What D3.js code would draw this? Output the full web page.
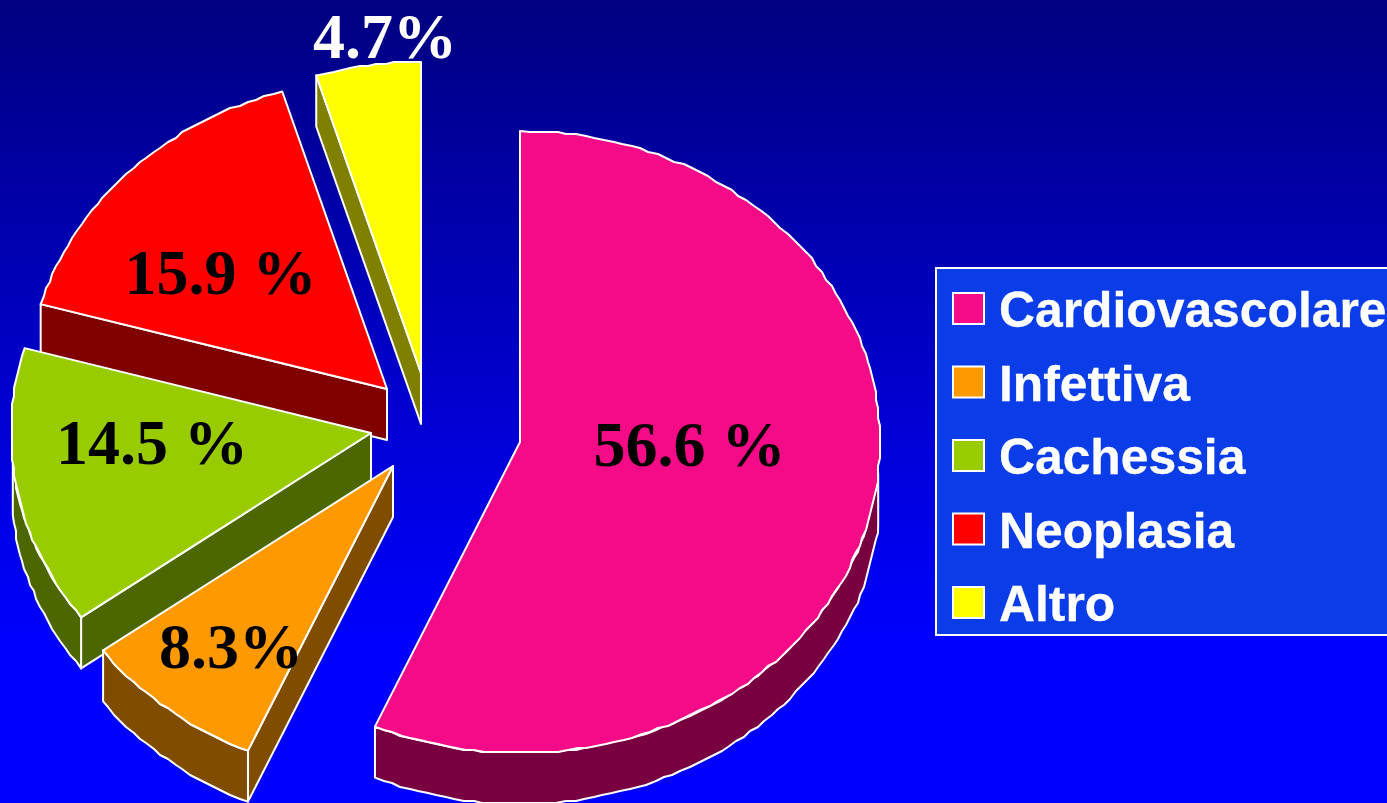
<!DOCTYPE html>
<html>
<head>
<meta charset="utf-8">
<script src="https://cdn.jsdelivr.net/npm/d3@7/dist/d3.min.js"></script>
<style>html,body{margin:0;padding:0;background:#0000ff;overflow:hidden}svg{display:block}</style>
</head>
<body>
<script>
// ---- data ----
const categories = ["Cardiovascolare", "Infettiva", "Cachessia", "Neoplasia", "Altro"];
const values = [56.6, 8.3, 14.5, 15.9, 4.7];
const valueLabels = ["56.6 %", "8.3%", "14.5 %", "15.9 %", "4.7%"];
const topColours = ["#F50A87", "#FF9900", "#99CC00", "#FF0000", "#FFFF00"];
const wallColours = ["#780040", "#804C00", "#4C6600", "#800000", "#808000"];
const labelColours = ["#000", "#000", "#000", "#000", "#fff"];

// ---- layout ----
const W = 1387, H = 803, rx = 360, ry = 311, depth = 51;
const apexes = [[520, 442], [393, 466], [371, 433], [387, 389], [421, 373]];
const labelPos = [[689.5, 466], [231, 668], [152, 464], [220.5, 294], [385, 58]];
const drawOrder = [4, 3, 2, 1, 0];
const wallInset = 0.1;

const svg = d3.select("body").append("svg").attr("width", W).attr("height", H);
const defs = svg.append("defs");
const grad = defs.append("linearGradient").attr("id", "bg").attr("x1", 0).attr("x2", 0).attr("y1", 0).attr("y2", 1);
grad.append("stop").attr("offset", "0").attr("stop-color", "#000080");
grad.append("stop").attr("offset", "0.8").attr("stop-color", "#0000ff");
svg.append("rect").attr("width", W).attr("height", H).attr("fill", "url(#bg)");

const arcs = d3.pie().sort(null).value(d => d)(values);
const line = d3.line();
const STEP = Math.PI / 120, GRID = 2;   // fine polygonal rim, snapped to a grid as in the source

function arcPoints(a, b, i, dy) {
  const [cx, cy] = apexes[i];
  const n = Math.max(1, Math.ceil((b - a) / STEP));
  return d3.range(n + 1).map(k => {
    const t = a + (b - a) * k / n;
    const x = cx + rx * Math.sin(t), y = cy - ry * Math.cos(t);
    if (k === 0 || k === n) return [x, y + dy];
    return [Math.round(x / GRID) * GRID, Math.round(y / GRID) * GRID + dy];
  });
}

const sliceStyle = (sel, fill) => sel.attr("fill", fill).attr("stroke", "#fff")
  .attr("stroke-width", 2).attr("stroke-linejoin", "round");

drawOrder.forEach(i => {
  const d = arcs[i];
  const g = svg.append("g").attr("class", "slice");
  const apex = apexes[i];

  // radial cut face along the start edge (hidden for the big slice)
  if (i !== 0) {
    const rim = arcPoints(d.startAngle, d.endAngle, i, 0)[0];
    const face = [apex, rim, [rim[0], rim[1] + depth], [apex[0], apex[1] + depth]];
    sliceStyle(g.append("path").attr("d", line(face) + "Z"), wallColours[i]);
  }

  // outer curved wall: only the part in the lower half of the ellipse shows
  const a0 = Math.max(d.startAngle, Math.PI / 2 + wallInset);
  const a1 = Math.min(d.endAngle, 3 * Math.PI / 2 - wallInset);
  if (a1 > a0) {
    const upper = arcPoints(a0, a1, i, 0);
    const lower = arcPoints(a0, a1, i, depth).reverse();
    sliceStyle(g.append("path").attr("d", line(upper.concat(lower)) + "Z"), wallColours[i]);
  }

  // top face
  const top = [apex].concat(arcPoints(d.startAngle, d.endAngle, i, 0));
  sliceStyle(g.append("path").attr("d", line(top) + "Z"), topColours[i]);
});

// value labels
svg.append("g").selectAll("text").data(valueLabels).join("text")
  .attr("x", (d, i) => labelPos[i][0]).attr("y", (d, i) => labelPos[i][1])
  .attr("text-anchor", "middle")
  .attr("font-family", "'Liberation Serif', serif").attr("font-weight", "bold").attr("font-size", 64)
  .attr("fill", (d, i) => labelColours[i])
  .text(d => d);

// legend
const legendY = d3.scalePoint().domain(categories).range([327, 621]);
const legend = svg.append("g");
legend.append("rect").attr("x", 936).attr("y", 268).attr("width", 470).attr("height", 367)
  .attr("fill", "#0A3CE8").attr("stroke", "#fff").attr("stroke-width", 2);
legend.selectAll("rect.sw").data(categories).join("rect").attr("class", "sw")
  .attr("x", 953).attr("y", d => legendY(d) - 34).attr("width", 31).attr("height", 31)
  .attr("fill", (d, i) => topColours[i]).attr("stroke", "#fff").attr("stroke-width", 2);
legend.selectAll("text").data(categories).join("text")
  .attr("x", 999).attr("y", d => legendY(d))
  .attr("font-family", "'Liberation Sans', Arial, sans-serif").attr("font-weight", "bold")
  .attr("font-size", 49.8).attr("fill", "#fff").attr("stroke", "#fff").attr("stroke-width", 0.3)
  .text(d => d);
</script>
</body>
</html>
